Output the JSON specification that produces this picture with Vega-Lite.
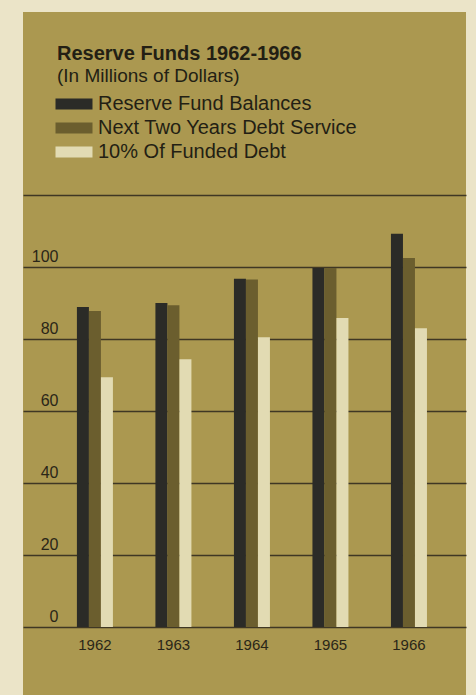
{
  "$schema": "https://vega.github.io/schema/vega-lite/v6.json",
  "autosize": {"type": "none"},
  "padding": {"left": 23, "top": 12, "right": 10, "bottom": 0},
  "width": 443,
  "height": 683,
  "background": "#ebe4c8",
  "config": {
    "view": {"fill": "#ab9850", "stroke": null},
    "font": "Liberation Sans"
  },
  "title": {
    "text": "Reserve Funds 1962-1966",
    "subtitle": "(In Millions of Dollars)",
    "anchor": "start",
    "frame": "group",
    "offset": -74,
    "dx": 34,
    "font": "Liberation Sans",
    "fontSize": 20,
    "fontWeight": "bold",
    "color": "#231f14",
    "subtitleFont": "Liberation Sans",
    "subtitleFontSize": 19,
    "subtitleColor": "#231f14",
    "subtitlePadding": 3
  },
  "data": {
    "values": [
      {"year": "1962", "series": "Reserve Fund Balances", "value": 88.9},
      {"year": "1962", "series": "Next Two Years Debt Service", "value": 87.8},
      {"year": "1962", "series": "10% Of Funded Debt", "value": 69.4},
      {"year": "1963", "series": "Reserve Fund Balances", "value": 90.0},
      {"year": "1963", "series": "Next Two Years Debt Service", "value": 89.4},
      {"year": "1963", "series": "10% Of Funded Debt", "value": 74.4},
      {"year": "1964", "series": "Reserve Fund Balances", "value": 96.7},
      {"year": "1964", "series": "Next Two Years Debt Service", "value": 96.5},
      {"year": "1964", "series": "10% Of Funded Debt", "value": 80.5},
      {"year": "1965", "series": "Reserve Fund Balances", "value": 99.7},
      {"year": "1965", "series": "Next Two Years Debt Service", "value": 99.7},
      {"year": "1965", "series": "10% Of Funded Debt", "value": 85.8},
      {"year": "1966", "series": "Reserve Fund Balances", "value": 109.2},
      {"year": "1966", "series": "Next Two Years Debt Service", "value": 102.5},
      {"year": "1966", "series": "10% Of Funded Debt", "value": 83.0}
    ]
  },
  "mark": {"type": "bar"},
  "encoding": {
    "x": {
      "field": "year",
      "type": "nominal",
      "scale": {"paddingInner": 0.5414, "paddingOuter": 0.592, "align": 0.58},
      "axis": {
        "title": null,
        "orient": "bottom",
        "offset": -68,
        "domain": false,
        "ticks": false,
        "tickSize": 0,
        "labelAngle": 0,
        "labelPadding": 10,
        "labelFont": "Liberation Sans",
        "labelFontSize": 15,
        "labelColor": "#2a2618"
      }
    },
    "xOffset": {
      "field": "series",
      "type": "nominal",
      "sort": ["Reserve Fund Balances", "Next Two Years Debt Service", "10% Of Funded Debt"],
      "scale": {"paddingInner": 0, "paddingOuter": 0}
    },
    "y": {
      "field": "value",
      "type": "quantitative",
      "scale": {"domain": [-18.89, 170.83], "nice": false, "zero": false},
      "axis": {
        "title": null,
        "orient": "left",
        "offset": -40,
        "values": [0, 20, 40, 60, 80, 100, 120],
        "labelExpr": "datum.value == 120 ? '' : datum.label",
        "domain": false,
        "ticks": false,
        "tickSize": 0,
        "labelPadding": 5,
        "labelAlign": "right",
        "labelBaseline": "alphabetic",
        "labelOffset": -5,
        "labelFont": "Liberation Sans",
        "labelFontSize": 16,
        "labelColor": "#2a2618",
        "grid": true,
        "gridColor": "#3f3724",
        "gridWidth": 1.5,
        "gridOpacity": 1
      }
    },
    "color": {
      "field": "series",
      "type": "nominal",
      "scale": {
        "domain": ["Reserve Fund Balances", "Next Two Years Debt Service", "10% Of Funded Debt"],
        "range": ["#2b2b27", "#6b5e2e", "#e2dbb3"]
      },
      "legend": {
        "title": null,
        "orient": "none",
        "legendX": 41,
        "legendY": 82,
        "padding": 0,
        "symbolType": "M-2,-0.6H2V0.6H-2Z",
        "symbolSize": 342,
        "symbolStrokeWidth": 0,
        "symbolOpacity": 1,
        "labelFont": "Liberation Sans",
        "labelFontSize": 20,
        "labelColor": "#231f14",
        "labelOffset": 14,
        "labelLimit": 400,
        "rowPadding": 4
      }
    }
  }
}
